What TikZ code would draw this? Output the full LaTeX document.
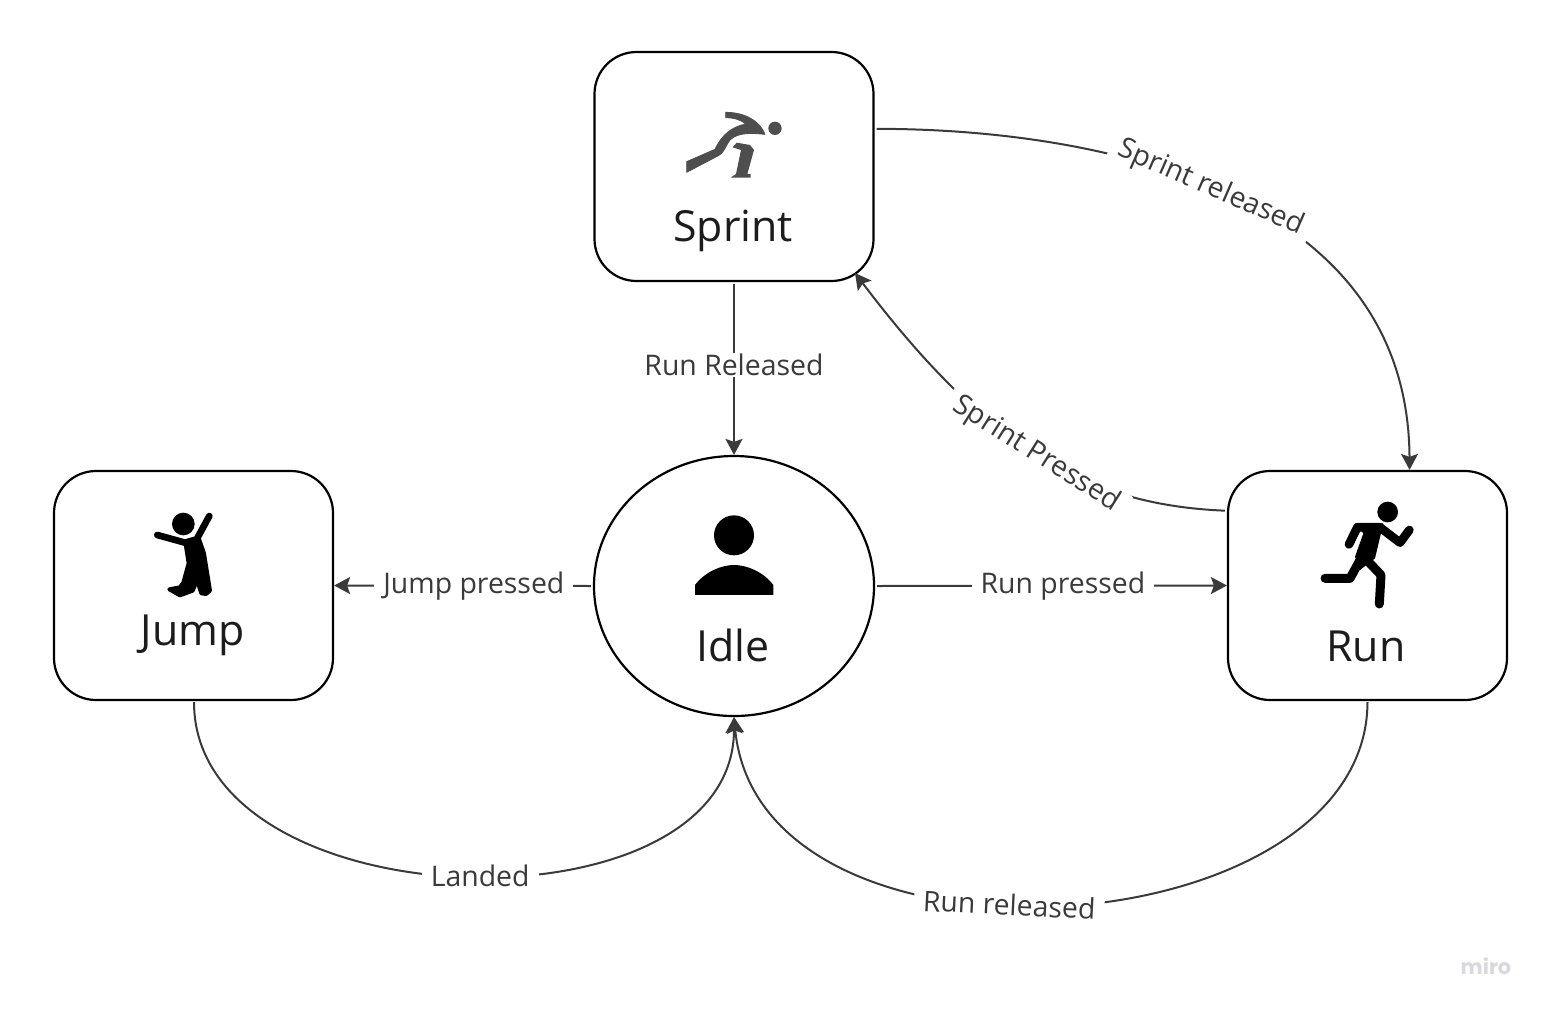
\documentclass[tikz,border=0pt]{standalone}
\usepackage{fontspec}
\setmainfont{Open Sans}
\newfontfamily\logofont{Poppins}
\usetikzlibrary{arrows.meta, shapes.geometric}

\definecolor{linecol}{HTML}{3A3A3A}
\definecolor{inkcol}{HTML}{1C1C1C}
\definecolor{logocol}{HTML}{D8D8DF}

\tikzset{
	statebox/.style = {draw = black, line width = 2.2bp, fill = white, rounded corners = 42bp, minimum width = 279bp, minimum height = 229bp, inner sep = 0},
	stateround/.style = {draw = black, line width = 2.2bp, fill = white, ellipse, minimum width = 280bp, minimum height = 260bp, inner sep = 0},
	statename/.style = {text = inkcol, font = \fontsize{43}{47}\selectfont, inner sep = 0},
	edgename/.style = {text = linecol, fill = white, font = \fontsize{28.5}{32}\selectfont, inner xsep = 9bp, inner ysep = 1bp},
	link/.style = {draw = linecol, line width = 2bp, -{Stealth[length = 16bp, width = 17bp, inset = 3bp]}, shorten <= 2bp},
	iconzoom/.style = {x = 0.3333bp, y = -0.3333bp},
	limb/.style = {line cap = round, line join = round},
}

\begin{document}
\begin{tikzpicture}[x = 1bp, y = -1bp]
	\useasboundingbox (0,0) rectangle (1547,1009);
	
	% states
	\node [statebox] (sprint) at (734,166.5) {};
	\node [statebox] (jump) at (193.5,585.5) {};
	\node [statebox] (run) at (1367.5,585.5) {};
	\node [stateround] (idle) at (734,586) {};
	
	\node [statename] (sprintname) at (733,231) {Sprint};
	\node [statename] (jumpname) at (192.5,635) {Jump};
	\node [statename] (runname) at (1366,646) {Run};
	\node [statename] (idlename) at (733,645) {Idle};
	
	% ends that fall on the rounded corner
	\coordinate (sprintcorner) at (855,273);
	\coordinate (jumpfoot) at (194,700);
	\coordinate (runfoot) at (1367.5,700);
	
	% straight links
	\draw [link] (sprint.south) -- (idle.north) node [pos = 0.48, edgename] (runreleasedtop) {Run Released};
	\draw [link] (idle.west) -- (jump.east) node [pos = 0.46, edgename] (jumppressed) {Jump pressed};
	\draw [link] (idle.east) -- (run.west) node [pos = 0.534, edgename] (runpressed) {Run pressed};
	
	% curved links
	\draw [link] (sprint.15.4) .. controls (1097,129) and (1408,190) .. (run.70.7) node [pos = 0.478, sloped, edgename] (sprintreleased) {Sprint released};
	\draw [link] (run.152) .. controls (1085,505) and (985,445) .. (sprintcorner) node [pos = 0.5, sloped, edgename] (sprintpressed) {Sprint Pressed};
	\draw [link] (jumpfoot) .. controls (194,924) and (734,938) .. (idle.south) node [pos = 0.52, edgename] (landed) {Landed};
	\draw [link] (runfoot) .. controls (1367,950) and (760,990) .. (idle.south) node [pos = 0.555, sloped, edgename] (runreleasedlow) {Run released};
	
	% sprint icon
	\begin{scope}[shift = {(660,90)}, iconzoom]
		\fill [linecol!90] (345,115) circle (20);
		\filldraw [linecol!90, line width = 0.8bp, line join = round] (197,67) .. controls (245,67) and (295,85) .. (315,133) .. controls (280,130) and (235,125) .. (210,150) .. controls (195,170) and (195,185) .. (175,197) -- (80,247) -- (80,215) -- (165,178) .. controls (185,135) and (215,110) .. (258,102) .. controls (240,88) and (220,83) .. (197,83) -- cycle;
		\fill [linecol!90] (218,172) -- (230,158) -- (270,165) -- (282,180) -- (262,252) -- (272,252) -- (272,263) -- (212,263) -- (228,252) -- (243,180) -- cycle;
	\end{scope}
	
	% jump icon
	\begin{scope}[shift = {(130,500)}, iconzoom]
		\fill (160,72) circle (34);
		\draw [limb, line width = 6.7bp] (82,105) -- (165,128) -- (200,118) -- (238,48);
		\filldraw [limb, line width = 4bp] (166,126) -- (206,114) -- (222,160) -- (240,272) -- (228,282) -- (214,280) -- (208,262) -- (204,235) -- (188,272) -- (150,286) -- (118,268) -- (150,262) -- (160,248) -- (176,190) -- cycle;
	\end{scope}
	
	% run icon
	\begin{scope}[shift = {(1300,490)}, iconzoom]
		\fill (263,66) circle (31);
		\draw [limb, line width = 8.7bp] (147,163) -- (172,112) -- (240,112) -- (300,158) -- (328,120);
		\fill (165,100) -- (250,100) -- (225,205) -- (180,240) -- (165,200) -- (190,130) -- cycle;
		\draw [limb, line width = 9bp] (75,265) -- (150,265) -- (205,165);
		\draw [limb, line width = 9bp] (205,215) -- (243,255) -- (238,342);
	\end{scope}
	
	% idle icon
	\begin{scope}[shift = {(680,500)}, iconzoom]
		\fill (162,106) circle (60);
		\fill (45,285) -- (45,255) .. controls (75,215) and (125,195) .. (162,195) .. controls (200,195) and (250,215) .. (280,255) -- (280,285) -- cycle;
	\end{scope}
	
	\node [text = logocol, font = \logofont\bfseries\fontsize{21}{24}\selectfont, inner sep = 0] (logo) at (1486,966) {miro};
\end{tikzpicture}
\end{document}
